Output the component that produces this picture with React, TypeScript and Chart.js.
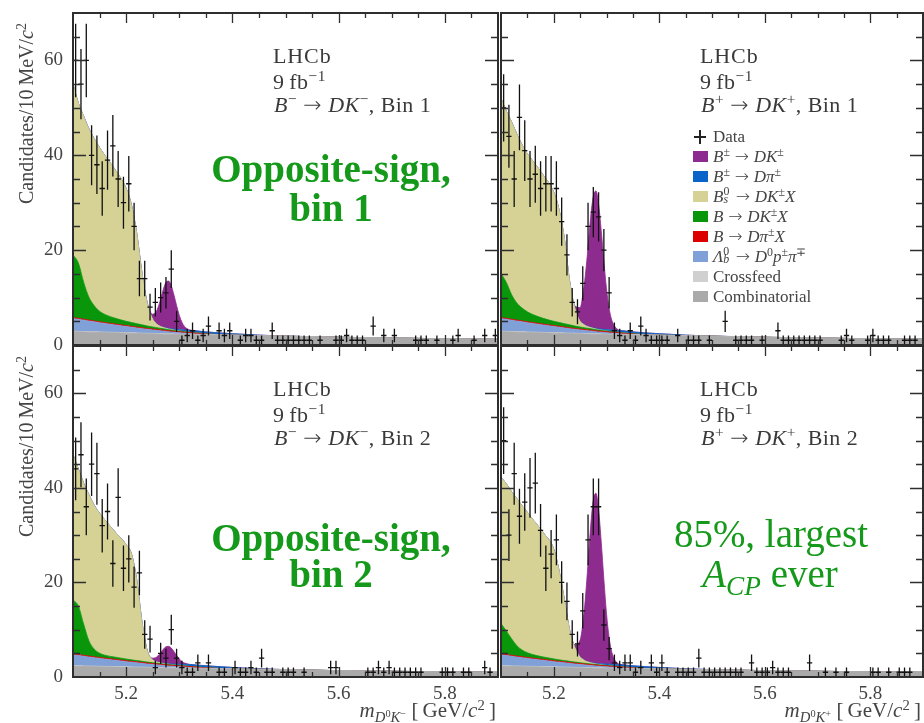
import React, { useEffect, useRef } from "react";
import { Chart, registerables } from "chart.js";

Chart.register(...registerables);

const PAGE_W = 924;
const PAGE_H = 723;
const SERIF = "'Liberation Serif', 'Times New Roman', serif";
const GREEN_TEXT = "#15991a";

// Histogram binning of m(D0 K) in GeV/c^2
const BIN_LOW = 5.1;
const BIN_WIDTH = 0.01;
const MASS_MIN = 5.1;
const MASS_MAX = 5.9;
const Y_MIN = 0;
const Y_MAX = 70;

const X_LABEL_TICKS = [5.2, 5.4, 5.6, 5.8];
const X_MINOR_TICKS = [5.15, 5.2, 5.25, 5.3, 5.35, 5.4, 5.45, 5.5, 5.55, 5.6, 5.65, 5.7, 5.75, 5.8, 5.85];
const Y_LABEL_TICKS = [0, 20, 40, 60];
const Y_MINOR_TICKS = [5, 10, 15, 20, 25, 30, 35, 40, 45, 50, 55, 60, 65];

// Candidates per 10 MeV/c^2 bin (80 bins from 5.1 to 5.9)
const COUNTS_BM_BIN1 = [
  60, 55, 60, 40, 38, 33, 39, 42, 35, 30,
  34, 25, 14, 14, 8, 9, 10, 11, 16, 5,
  1, 2, 3, 1, 2, 4, 0, 3, 2, 3,
  0, 1, 2, 2, 1, 1, 0, 3, 1, 1,
  1, 1, 1, 1, 1, 0, 1, 0, 0, 1,
  1, 2, 1, 1, 1, 0, 4, 0, 2, 0,
  2, 0, 0, 0, 1, 1, 1, 0, 1, 0,
  0, 1, 2, 0, 0, 1, 0, 2, 0, 2,
];
const COUNTS_BP_BIN1 = [
  50, 44, 35, 48, 41, 35, 36, 33, 34, 34,
  33, 26, 19, 9, 7, 13, 25, 28, 27, 20,
  11, 3, 2, 1, 3, 1, 4, 2, 1, 1,
  1, 1, 0, 2, 0, 1, 1, 1, 0, 1,
  0, 0, 5, 0, 1, 1, 1, 1, 0, 1,
  0, 0, 3, 1, 1, 1, 1, 1, 1, 1,
  1, 0, 0, 0, 1, 2, 1, 0, 0, 1,
  2, 1, 1, 1, 0, 0, 1, 1, 1, 0,
];
const COUNTS_BM_BIN2 = [
  44, 47, 36, 45, 43, 32, 35, 24, 38, 23,
  25, 19, 22, 9, 8, 2, 5, 4, 10, 4,
  2, 1, 1, 3, 0, 3, 0, 1, 1, 0,
  2, 1, 1, 2, 1, 4, 1, 1, 0, 1,
  1, 1, 0, 1, 0, 0, 0, 0, 2, 2,
  0, 0, 0, 0, 0, 1, 1, 2, 1, 2,
  1, 1, 1, 1, 1, 1, 0, 0, 0, 1,
  1, 1, 0, 1, 1, 0, 0, 2, 1, 0,
];
const COUNTS_BP_BIN2 = [
  50, 30, 43, 34, 37, 40, 41, 31, 23, 26,
  29, 20, 16, 9, 7, 14, 29, 36, 36, 11,
  6, 3, 2, 3, 3, 1, 2, 0, 3, 1,
  3, 1, 0, 1, 1, 1, 1, 4, 1, 1,
  1, 1, 1, 1, 1, 1, 0, 3, 1, 1,
  1, 2, 1, 1, 1, 0, 0, 0, 3, 0,
  0, 1, 0, 1, 0, 1, 0, 0, 0, 0,
  1, 1, 0, 1, 0, 1, 1, 1, 0, 0,
];

// Mass points where the fit components are sampled
const MODEL_MASS = [
  5.10, 5.11, 5.12, 5.13, 5.14, 5.15, 5.16, 5.18, 5.20, 5.21, 5.22, 5.23,
  5.24, 5.25, 5.255, 5.26, 5.265, 5.27, 5.275, 5.28, 5.285, 5.29, 5.295, 5.30,
  5.305, 5.31, 5.32, 5.33, 5.35, 5.40, 5.45, 5.50, 5.60, 5.70, 5.80, 5.90,
];

// Fit components (candidates / 10 MeV/c^2), bottom of the stack first
const COMB_BIN1 = [
  2.80, 2.77, 2.74, 2.71, 2.68, 2.65, 2.62, 2.56, 2.50, 2.47, 2.44, 2.41,
  2.38, 2.35, 2.34, 2.32, 2.31, 2.29, 2.28, 2.26, 2.25, 2.23, 2.22, 2.20,
  2.19, 2.18, 2.16, 2.14, 2.10, 2.00, 1.90, 1.80, 1.60, 1.45, 1.30, 1.20,
];
const COMB_BIN2 = [
  2.30, 2.27, 2.25, 2.22, 2.20, 2.17, 2.15, 2.10, 2.05, 2.03, 2.00, 1.98,
  1.95, 1.93, 1.92, 1.90, 1.89, 1.88, 1.87, 1.85, 1.85, 1.83, 1.82, 1.80,
  1.80, 1.79, 1.77, 1.75, 1.72, 1.64, 1.56, 1.48, 1.31, 1.19, 1.07, 0.98,
];
const CROSSFEED = [
  0.10, 0.10, 0.10, 0.10, 0.10, 0.10, 0.10, 0.10, 0.10, 0.10, 0.10, 0.10,
  0.10, 0.10, 0.10, 0.10, 0.10, 0.10, 0.10, 0.10, 0.10, 0.10, 0.10, 0.10,
  0.10, 0.10, 0.10, 0.10, 0.10, 0.08, 0.06, 0.05, 0.03, 0.02, 0.01, 0.00,
];
const LAMBDA_BIN1 = [
  2.70, 2.55, 2.40, 2.25, 2.10, 1.95, 1.82, 1.56, 1.30, 1.18, 1.06, 0.94,
  0.82, 0.72, 0.67, 0.63, 0.58, 0.54, 0.49, 0.45, 0.40, 0.37, 0.33, 0.30,
  0.26, 0.22, 0.15, 0.08, 0.02, 0, 0, 0, 0, 0, 0, 0,
];
const LAMBDA_BIN2 = [
  2.30, 2.17, 2.04, 1.91, 1.79, 1.66, 1.55, 1.33, 1.10, 1.00, 0.90, 0.80,
  0.70, 0.61, 0.57, 0.54, 0.49, 0.46, 0.42, 0.38, 0.34, 0.31, 0.28, 0.26,
  0.22, 0.19, 0.13, 0.07, 0.02, 0, 0, 0, 0, 0, 0, 0,
];
const B_DPIX = [
  0.20, 0.20, 0.20, 0.20, 0.20, 0.20, 0.20, 0.20, 0.20, 0.20, 0.20, 0.20,
  0.20, 0.20, 0.20, 0.20, 0.20, 0.20, 0.20, 0.20, 0.20, 0.20, 0.20, 0.20,
  0.20, 0.20, 0.20, 0.20, 0.10, 0, 0, 0, 0, 0, 0, 0,
];
const B_DKX_BM_BIN1 = [
  13.2, 11.7, 7.8, 4.8, 3.2, 2.2, 1.7, 1.2, 0.9, 0.8, 0.7, 0.6,
  0.5, 0.42, 0.38, 0.35, 0.32, 0.29, 0.26, 0.23, 0.20, 0.18, 0.16, 0.14,
  0.12, 0.10, 0.07, 0.05, 0.02, 0, 0, 0, 0, 0, 0, 0,
];
const B_DKX_BP_BIN1 = [
  9.3, 7.6, 5.2, 3.6, 2.7, 2.1, 1.7, 1.2, 0.9, 0.8, 0.7, 0.6,
  0.5, 0.42, 0.38, 0.35, 0.32, 0.29, 0.26, 0.23, 0.20, 0.18, 0.16, 0.14,
  0.12, 0.10, 0.07, 0.05, 0.02, 0, 0, 0, 0, 0, 0, 0,
];
const B_DKX_BM_BIN2 = [
  11.4, 10.3, 6.6, 3.2, 1.6, 0.9, 0.6, 0.45, 0.35, 0.30, 0.27, 0.24,
  0.21, 0.18, 0.16, 0.15, 0.14, 0.12, 0.11, 0.10, 0.09, 0.08, 0.07, 0.06,
  0.05, 0.04, 0.03, 0.02, 0.01, 0, 0, 0, 0, 0, 0, 0,
];
const B_DKX_BP_BIN2 = [
  6.4, 5.0, 3.5, 2.2, 1.4, 1.0, 0.75, 0.5, 0.38, 0.30, 0.27, 0.24,
  0.21, 0.18, 0.16, 0.15, 0.14, 0.12, 0.11, 0.10, 0.09, 0.08, 0.07, 0.06,
  0.05, 0.04, 0.03, 0.02, 0.01, 0, 0, 0, 0, 0, 0, 0,
];
const BS_DKX_BM_BIN1 = [
  36.0, 33.7, 35.0, 35.5, 35.2, 34.5, 33.5, 31.2, 28.0, 24.8, 19.0, 10.8,
  4.7, 1.7, 1.0, 0.6, 0.4, 0.28, 0.20, 0.14, 0.10, 0.07, 0.05, 0.03,
  0.02, 0.01, 0, 0, 0, 0, 0, 0, 0, 0, 0, 0,
];
const BS_DKX_BP_BIN1 = [
  36.9, 36.1, 36.4, 35.6, 34.4, 33.3, 32.4, 30.2, 27.2, 23.8, 18.0, 9.3,
  3.8, 1.2, 0.8, 0.5, 0.35, 0.25, 0.18, 0.12, 0.08, 0.06, 0.04, 0.02,
  0.01, 0, 0, 0, 0, 0, 0, 0, 0, 0, 0, 0,
];
const BS_DKX_BM_BIN2 = [
  30.7, 29.0, 29.8, 30.9, 30.4, 29.6, 28.6, 26.4, 24.2, 22.4, 17.0, 8.2,
  2.3, 0.6, 0.35, 0.22, 0.15, 0.10, 0.07, 0.05, 0.03, 0.02, 0.01, 0,
  0, 0, 0, 0, 0, 0, 0, 0, 0, 0, 0, 0,
];
const BS_DKX_BP_BIN2 = [
  31.0, 31.1, 31.1, 31.1, 30.5, 29.7, 28.6, 26.3, 23.2, 18.9, 13.0, 6.7,
  3.1, 1.2, 0.8, 0.5, 0.35, 0.25, 0.18, 0.12, 0.08, 0.06, 0.04, 0.02,
  0.01, 0, 0, 0, 0, 0, 0, 0, 0, 0, 0, 0,
];
const B_DPI = [
  0, 0, 0, 0, 0, 0, 0, 0, 0, 0, 0, 0,
  0, 0, 0, 0, 0, 0.05, 0.08, 0.10, 0.15, 0.20, 0.25, 0.30,
  0.33, 0.36, 0.40, 0.42, 0.42, 0.30, 0.12, 0.03, 0, 0, 0, 0,
];
const SIG_BM_BIN1 = [
  0, 0, 0, 0, 0, 0, 0, 0, 0, 0, 0, 0,
  0.15, 1.0, 2.1, 3.7, 5.8, 8.0, 9.6, 10.0, 9.1, 7.2, 5.0, 3.0,
  1.6, 0.7, 0.1, 0.02, 0, 0, 0, 0, 0, 0, 0, 0,
];
const SIG_BP_BIN1 = [
  0, 0, 0, 0, 0, 0, 0, 0, 0, 0, 0, 0,
  0.45, 2.9, 6.0, 10.7, 16.8, 23.2, 27.8, 29.0, 26.3, 20.8, 14.4, 8.6,
  4.5, 2.1, 0.3, 0.05, 0, 0, 0, 0, 0, 0, 0, 0,
];
const SIG_BM_BIN2 = [
  0, 0, 0, 0, 0, 0, 0, 0, 0, 0, 0, 0,
  0.06, 0.37, 0.76, 1.37, 2.15, 2.96, 3.55, 3.7, 3.35, 2.65, 1.85, 1.1,
  0.58, 0.27, 0.04, 0, 0, 0, 0, 0, 0, 0, 0, 0,
];
const SIG_BP_BIN2 = [
  0, 0, 0, 0, 0, 0, 0, 0, 0, 0, 0, 0,
  0.55, 3.6, 7.4, 13.3, 20.9, 28.8, 34.5, 36.0, 32.6, 25.8, 17.9, 10.7,
  5.6, 2.6, 0.36, 0.06, 0, 0, 0, 0, 0, 0, 0, 0,
];

const COLORS = {
  signal: "#8e2b8f",
  dpi: "#0b64c8",
  bsDKX: "#d6d296",
  bDKX: "#0a960a",
  bDpiX: "#dc0000",
  lambda: "#80a0d8",
  crossfeed: "#d0d0d0",
  comb: "#aaaaaa",
};

type Box = { left: number; top: number; right: number; bottom: number };
type Panel = {
  id: string;
  counts: number[];
  comb: number[];
  lambda: number[];
  bDKX: number[];
  bsDKX: number[];
  signal: number[];
  box: Box;
  yLabels: boolean;
  xLabels: boolean;
};

const Y_AXIS_W = 73;
const X_AXIS_H = 30;

const PANELS: Panel[] = [
  { id: "bm1", counts: COUNTS_BM_BIN1, comb: COMB_BIN1, lambda: LAMBDA_BIN1, bDKX: B_DKX_BM_BIN1, bsDKX: BS_DKX_BM_BIN1, signal: SIG_BM_BIN1, box: { left: 73, top: 13, right: 498, bottom: 345 }, yLabels: true, xLabels: false },
  { id: "bp1", counts: COUNTS_BP_BIN1, comb: COMB_BIN1, lambda: LAMBDA_BIN1, bDKX: B_DKX_BP_BIN1, bsDKX: BS_DKX_BP_BIN1, signal: SIG_BP_BIN1, box: { left: 501, top: 13, right: 923, bottom: 345 }, yLabels: false, xLabels: false },
  { id: "bm2", counts: COUNTS_BM_BIN2, comb: COMB_BIN2, lambda: LAMBDA_BIN2, bDKX: B_DKX_BM_BIN2, bsDKX: BS_DKX_BM_BIN2, signal: SIG_BM_BIN2, box: { left: 73, top: 346, right: 498, bottom: 677 }, yLabels: true, xLabels: true },
  { id: "bp2", counts: COUNTS_BP_BIN2, comb: COMB_BIN2, lambda: LAMBDA_BIN2, bDKX: B_DKX_BP_BIN2, bsDKX: BS_DKX_BP_BIN2, signal: SIG_BP_BIN2, box: { left: 501, top: 346, right: 923, bottom: 677 }, yLabels: false, xLabels: true },
];

// Poisson error bars with half-bin horizontal extent
const errorBarsPlugin = {
  id: "errorBars",
  afterDatasetsDraw(chart: any) {
    const idx = chart.data.datasets.findIndex((d: any) => d.label === "Data");
    if (idx < 0) return;
    const meta = chart.getDatasetMeta(idx);
    const raw = chart.data.datasets[idx].data;
    const xs = chart.scales.x;
    const ys = chart.scales.y;
    const { ctx, chartArea } = chart;
    ctx.save();
    ctx.beginPath();
    ctx.rect(chartArea.left, chartArea.top, chartArea.right - chartArea.left, chartArea.bottom - chartArea.top);
    ctx.clip();
    ctx.strokeStyle = "#111";
    ctx.lineWidth = 1.3;
    meta.data.forEach((el: any, i: number) => {
      const p = raw[i];
      const err = Math.sqrt(p.y);
      const yHi = ys.getPixelForValue(p.y + err);
      const yLo = ys.getPixelForValue(Math.max(p.y - err, 0));
      const xL = xs.getPixelForValue(p.x - BIN_WIDTH / 2);
      const xR = xs.getPixelForValue(p.x + BIN_WIDTH / 2);
      ctx.beginPath();
      ctx.moveTo(el.x, yHi);
      ctx.lineTo(el.x, yLo);
      ctx.moveTo(xL, el.y);
      ctx.lineTo(xR, el.y);
      ctx.stroke();
    });
    ctx.restore();
  },
};

// Closed frame with inward ticks on all four sides
const framePlugin = {
  id: "frame",
  afterDraw(chart: any) {
    const { ctx, chartArea } = chart;
    const { left, right, top, bottom } = chartArea;
    const xs = chart.scales.x;
    const ys = chart.scales.y;
    ctx.save();
    ctx.strokeStyle = "#2e2e2e";
    ctx.lineWidth = 1.3;
    ctx.beginPath();
    X_MINOR_TICKS.forEach((v) => {
      const px = Math.round(xs.getPixelForValue(v)) + 0.5;
      const major = X_LABEL_TICKS.some((m) => Math.abs(m - v) < 1e-6);
      const len = major ? 10 : 5;
      ctx.moveTo(px, top);
      ctx.lineTo(px, top + len);
      ctx.moveTo(px, bottom);
      ctx.lineTo(px, bottom - len);
    });
    Y_MINOR_TICKS.forEach((v) => {
      const py = Math.round(ys.getPixelForValue(v)) + 0.5;
      const major = Y_LABEL_TICKS.includes(v);
      const len = major ? 13 : 7;
      ctx.moveTo(left, py);
      ctx.lineTo(left + len, py);
      ctx.moveTo(right, py);
      ctx.lineTo(right - len, py);
    });
    ctx.stroke();
    ctx.lineWidth = 2;
    ctx.strokeRect(left, top, right - left, bottom - top);
    ctx.restore();
  },
};

function buildConfig(p: Panel): any {
  const layers = [
    { label: "Combinatorial", values: p.comb, color: COLORS.comb },
    { label: "Crossfeed", values: CROSSFEED, color: COLORS.crossfeed },
    { label: "Lambda_b", values: p.lambda, color: COLORS.lambda },
    { label: "B->DpiX", values: B_DPIX, color: COLORS.bDpiX },
    { label: "B->DKX", values: p.bDKX, color: COLORS.bDKX },
    { label: "Bs->DKX", values: p.bsDKX, color: COLORS.bsDKX },
    { label: "B->Dpi", values: B_DPI, color: COLORS.dpi },
    { label: "B->DK", values: p.signal, color: COLORS.signal },
  ];
  const stackTop = MODEL_MASS.map(() => 0);
  const datasets: any[] = layers.map((layer, k) => {
    layer.values.forEach((v, i) => {
      stackTop[i] += v;
    });
    return {
      label: layer.label,
      data: MODEL_MASS.map((m, i) => ({ x: m, y: stackTop[i] })),
      backgroundColor: layer.color,
      borderColor: layer.color,
      borderWidth: 0.8,
      pointRadius: 0,
      fill: k === 0 ? "origin" : "-1",
      cubicInterpolationMode: "monotone",
    };
  });
  const points = p.counts.flatMap((n, i) =>
    n > 0 ? [{ x: BIN_LOW + BIN_WIDTH * (i + 0.5), y: n }] : []
  );
  datasets.push({
    label: "Data",
    data: points,
    showLine: false,
    pointRadius: 0,
    borderWidth: 0,
    fill: false,
  });

  const pad = {
    left: p.yLabels ? p.box.left - Y_AXIS_W : p.box.left,
    top: p.box.top,
    right: PAGE_W - p.box.right,
    bottom: p.xLabels ? PAGE_H - p.box.bottom - X_AXIS_H : PAGE_H - p.box.bottom,
  };

  const xScale: any = {
    type: "linear",
    min: MASS_MIN,
    max: MASS_MAX,
    display: p.xLabels,
    grid: { display: false, drawTicks: false },
    border: { display: false },
    ticks: {
      color: "#444",
      font: { family: SERIF, size: 19 },
      padding: 6,
      maxRotation: 0,
      callback: (v: any) => Number(v).toFixed(1),
    },
    afterBuildTicks: (axis: any) => {
      axis.ticks = X_LABEL_TICKS.map((value) => ({ value }));
    },
  };
  if (p.xLabels) {
    xScale.afterFit = (axis: any) => {
      axis.height = X_AXIS_H;
      axis.paddingLeft = 0;
      axis.paddingRight = 0;
    };
  }

  const yScale: any = {
    type: "linear",
    min: Y_MIN,
    max: Y_MAX,
    display: p.yLabels,
    grid: { display: false, drawTicks: false },
    border: { display: false },
    ticks: {
      color: "#444",
      font: { family: SERIF, size: 19 },
      padding: 10,
      callback: (v: any) => String(v),
    },
    afterBuildTicks: (axis: any) => {
      axis.ticks = Y_LABEL_TICKS.map((value) => ({ value }));
    },
  };
  if (p.yLabels) {
    yScale.afterFit = (axis: any) => {
      axis.width = Y_AXIS_W;
      axis.paddingTop = 0;
      axis.paddingBottom = 0;
    };
  }

  return {
    type: "line",
    data: { datasets },
    options: {
      animation: false,
      responsive: false,
      maintainAspectRatio: false,
      devicePixelRatio: 1,
      events: [],
      layout: { padding: pad },
      plugins: {
        legend: { display: false },
        tooltip: { enabled: false },
        title: { display: false },
      },
      scales: { x: xScale, y: yScale },
    },
    plugins: [errorBarsPlugin, framePlugin],
  };
}

function PanelCanvas({ panel }: { panel: Panel }) {
  const ref = useRef<HTMLCanvasElement>(null);
  useEffect(() => {
    if (!ref.current) return;
    const chart = new Chart(ref.current, buildConfig(panel));
    return () => chart.destroy();
  }, [panel]);
  return (
    <canvas
      ref={ref}
      width={PAGE_W}
      height={PAGE_H}
      style={{ position: "absolute", left: 0, top: 0, width: PAGE_W, height: PAGE_H, pointerEvents: "none" }}
    />
  );
}

type LabelProps = {
  x: number;
  baseline: number;
  size: number;
  align?: "left" | "center" | "right";
  color?: string;
  bold?: boolean;
  spacing?: string;
  children: React.ReactNode;
};

function Label({ x, baseline, size, align = "left", color = "#3a3a3a", bold = false, spacing, children }: LabelProps) {
  const style: React.CSSProperties = {
    position: "absolute",
    top: baseline - 0.8375 * size,
    fontSize: size,
    lineHeight: `${size}px`,
    color,
    fontWeight: bold ? 700 : 400,
    whiteSpace: "nowrap",
    fontFamily: SERIF,
    letterSpacing: spacing,
  };
  if (align === "left") style.left = x;
  else if (align === "right") style.right = PAGE_W - x;
  else {
    style.left = x;
    style.transform = "translateX(-50%)";
  }
  return <div style={style}>{children}</div>;
}

const I = ({ children }: { children: React.ReactNode }) => <span style={{ fontStyle: "italic" }}>{children}</span>;
const Sup = ({ children }: { children: React.ReactNode }) => (
  <span style={{ fontSize: "0.7em", verticalAlign: "0.5em", lineHeight: 0 }}>{children}</span>
);
const Sub = ({ children }: { children: React.ReactNode }) => (
  <span style={{ fontSize: "0.7em", verticalAlign: "-0.3em", lineHeight: 0 }}>{children}</span>
);
const SupSub = ({ sup, sub }: { sup: React.ReactNode; sub: React.ReactNode }) => (
  <span style={{ display: "inline-block", position: "relative", width: "0.45em", height: 1 }}>
    <span style={{ position: "absolute", left: 0, bottom: "0.3em", fontSize: "0.7em", lineHeight: 1 }}>{sup}</span>
    <span style={{ position: "absolute", left: 0, top: "-0.55em", fontSize: "0.7em", lineHeight: 1, fontStyle: "italic" }}>{sub}</span>
  </span>
);
const Arrow = () => (
  <span style={{ margin: "0 0.28em", fontFamily: "'DejaVu Sans', sans-serif", fontWeight: 300 }}>{"\u2192"}</span>
);

const MINUS = "\u2212";

function InfoBlock({ x, dy, charge, bin }: { x: number; dy: number; charge: string; bin: number }) {
  return (
    <>
      <Label x={x} baseline={63 + dy} size={22} spacing="0.04em">LHCb</Label>
      <Label x={x} baseline={89 + dy} size={22} spacing="0.02em">9{"\u2009"}fb<Sup>{MINUS}1</Sup></Label>
      <Label x={x + 1} baseline={112 + dy} size={22} spacing="0.02em">
        <I>B</I><Sup>{charge}</Sup><Arrow /><I>DK</I><Sup>{charge}</Sup>, Bin {bin}
      </Label>
    </>
  );
}

const LEGEND_ROW_Y = [137, 156.5, 176.5, 196.5, 216.5, 236.5, 256.5, 276.5, 296.5];

function Legend() {
  const entries: { color: string | null; text: React.ReactNode }[] = [
    { color: null, text: "Data" },
    { color: COLORS.signal, text: (<><I>B</I><Sup>±</Sup><Arrow /><I>DK</I><Sup>±</Sup></>) },
    { color: COLORS.dpi, text: (<><I>B</I><Sup>±</Sup><Arrow /><I>Dπ</I><Sup>±</Sup></>) },
    { color: COLORS.bsDKX, text: (<><I>B</I><SupSub sup="0" sub="s" /><Arrow /><I>DK</I><Sup>±</Sup><I>X</I></>) },
    { color: COLORS.bDKX, text: (<><I>B</I><Arrow /><I>DK</I><Sup>±</Sup><I>X</I></>) },
    { color: COLORS.bDpiX, text: (<><I>B</I><Arrow /><I>Dπ</I><Sup>±</Sup><I>X</I></>) },
    { color: COLORS.lambda, text: (<><I>Λ</I><SupSub sup="0" sub="b" /><Arrow /><I>D</I><Sup>0</Sup><I>p</I><Sup>±</Sup><I>π</I><Sup>∓</Sup></>) },
    { color: COLORS.crossfeed, text: "Crossfeed" },
    { color: COLORS.comb, text: "Combinatorial" },
  ];
  return (
    <>
      {entries.map((e, k) => {
        const cy = LEGEND_ROW_Y[k];
        return (
          <React.Fragment key={k}>
            {e.color ? (
              <div style={{ position: "absolute", left: 693, top: cy - 5.5, width: 15, height: 11, background: e.color }} />
            ) : (
              <>
                <div style={{ position: "absolute", left: 694, top: cy - 0.75, width: 12, height: 1.5, background: "#222" }} />
                <div style={{ position: "absolute", left: 699.25, top: cy - 7, width: 1.5, height: 14, background: "#222" }} />
              </>
            )}
            <Label x={713} baseline={cy + 5.5} size={17} color="#444">{e.text}</Label>
          </React.Fragment>
        );
      })}
    </>
  );
}

function YTitle({ bottom }: { bottom: number }) {
  return (
    <div
      style={{
        position: "absolute",
        left: 16,
        top: bottom,
        transform: "rotate(-90deg)",
        transformOrigin: "0 0",
        fontSize: 20,
        lineHeight: "20px",
        whiteSpace: "nowrap",
        color: "#444",
        fontFamily: SERIF,
      }}
    >
      Candidates/10{"\u2009"}MeV/<I>c</I><Sup>2</Sup>
    </div>
  );
}

function XTitle({ right, charge }: { right: number; charge: string }) {
  return (
    <Label x={right} baseline={718} size={21} align="right" color="#444">
      <I>m</I>
      <Sub><I>D</I><Sup>0</Sup><I>K</I><Sup>{charge}</Sup></Sub>
      {" "}[{"\u2009"}GeV/<I>c</I><Sup>2</Sup>{"\u2009"}]
    </Label>
  );
}

function Overlay() {
  return (
    <>
      <InfoBlock x={273} dy={0} charge={MINUS} bin={1} />
      <InfoBlock x={700} dy={0} charge="+" bin={1} />
      <InfoBlock x={273} dy={333} charge={MINUS} bin={2} />
      <InfoBlock x={700} dy={333} charge="+" bin={2} />
      <Legend />

      <Label x={331} baseline={182} size={39} bold align="center" color={GREEN_TEXT}>Opposite-sign,</Label>
      <Label x={331} baseline={221} size={39} bold align="center" color={GREEN_TEXT}>bin 1</Label>
      <Label x={331} baseline={551} size={39} bold align="center" color={GREEN_TEXT}>Opposite-sign,</Label>
      <Label x={331} baseline={587} size={39} bold align="center" color={GREEN_TEXT}>bin 2</Label>
      <Label x={771} baseline={547} size={39} align="center" color={GREEN_TEXT}>85%, largest</Label>
      <Label x={770} baseline={587} size={39} align="center" color={GREEN_TEXT}>
        <I>A</I><Sub><I>CP</I></Sub> ever
      </Label>

      <YTitle bottom={204} />
      <YTitle bottom={537} />
      <XTitle right={496} charge={MINUS} />
      <XTitle right={921} charge="+" />
    </>
  );
}

export default function App() {
  return (
    <div
      style={{
        position: "fixed",
        left: 0,
        top: 0,
        width: PAGE_W,
        height: PAGE_H,
        background: "#fff",
        overflow: "hidden",
        fontFamily: SERIF,
      }}
    >
      {PANELS.map((p) => (
        <PanelCanvas key={p.id} panel={p} />
      ))}
      <Overlay />
    </div>
  );
}
